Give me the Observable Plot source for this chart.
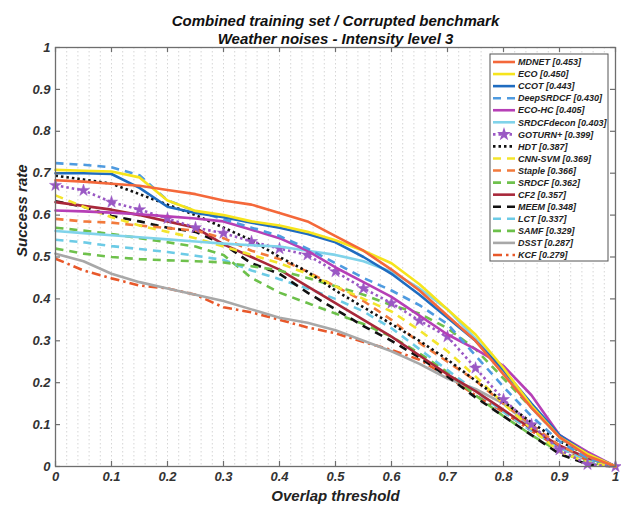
<!DOCTYPE html>
<html><head><meta charset="utf-8">
<script src="https://cdn.jsdelivr.net/npm/d3@7"></script>
<script src="https://cdn.jsdelivr.net/npm/@observablehq/plot@0.6"></script>
<style>
body{margin:0;background:#fff;}
#chart svg{font-family:"Liberation Sans",Arial,sans-serif;background:#fff;}
</style></head><body><div id="chart"></div>
<script>
// ---- data ----
const thresholds = [0,0.05,0.1,0.15,0.2,0.25,0.3,0.35,0.4,0.45,0.5,0.55,0.6,0.65,0.7,0.75,0.8,0.85,0.9,0.95,1];
const axisTicks = [0,0.1,0.2,0.3,0.4,0.5,0.6,0.7,0.8,0.9,1];
const gridTicks = [0.02,0.04,0.06,0.08,0.1,0.12,0.14,0.16,0.18,0.2,0.22,0.24,0.26,0.28,0.3,0.32,0.34,0.36,0.38,0.4,0.42,0.44,0.46,0.48,0.5,0.52,0.54,0.56,0.58,0.6,0.62,0.64,0.66,0.68,0.7,0.72,0.74,0.76,0.78,0.8,0.82,0.84,0.86,0.88,0.9,0.92,0.94,0.96,0.98];
const trackers = ["MDNET","ECO","CCOT","DeepSRDCF","ECO-HC","SRDCFdecon","GOTURN+","HDT","CNN-SVM","Staple","SRDCF","CF2","MEEM","LCT","SAMF","DSST","KCF"];
const aucs = ["0.453","0.450","0.443","0.430","0.405","0.403","0.399","0.387","0.369","0.366","0.362","0.357","0.348","0.337","0.329","0.287","0.279"];

const MDNET = [0.683,0.68,0.675,0.67,0.66,0.65,0.635,0.625,0.605,0.585,0.55,0.515,0.47,0.42,0.36,0.30,0.22,0.14,0.07,0.025,0];
const ECO = [0.708,0.706,0.704,0.69,0.635,0.61,0.6,0.585,0.575,0.56,0.54,0.515,0.485,0.435,0.375,0.315,0.235,0.145,0.07,0.03,0];
const CCOT = [0.70,0.70,0.698,0.665,0.62,0.605,0.595,0.582,0.57,0.555,0.535,0.50,0.46,0.41,0.355,0.30,0.23,0.15,0.075,0.03,0];
const DeepSRDCF = [0.724,0.72,0.714,0.695,0.635,0.61,0.59,0.57,0.55,0.52,0.485,0.45,0.42,0.385,0.34,0.265,0.19,0.12,0.06,0.02,0];
const ECOHC = [0.611,0.609,0.606,0.602,0.597,0.592,0.585,0.565,0.545,0.515,0.475,0.44,0.405,0.36,0.315,0.28,0.24,0.17,0.075,0.035,0];
const SRDCFdecon = [0.562,0.557,0.552,0.547,0.542,0.537,0.532,0.528,0.525,0.515,0.505,0.49,0.465,0.425,0.375,0.305,0.23,0.14,0.07,0.025,0];
const GOTURN = [0.671,0.659,0.631,0.613,0.592,0.57,0.557,0.537,0.52,0.505,0.465,0.425,0.39,0.348,0.31,0.235,0.16,0.10,0.04,0.005,0];
const HDT = [0.694,0.685,0.675,0.65,0.625,0.6,0.57,0.54,0.5,0.465,0.42,0.38,0.34,0.3,0.255,0.205,0.155,0.105,0.06,0.03,0];
const CNNSVM = [0.647,0.62,0.595,0.575,0.56,0.545,0.525,0.505,0.485,0.46,0.43,0.4,0.37,0.325,0.275,0.215,0.15,0.09,0.035,0.01,0];
const Staple = [0.591,0.585,0.582,0.575,0.569,0.563,0.545,0.515,0.495,0.465,0.43,0.395,0.35,0.295,0.25,0.205,0.15,0.1,0.05,0.02,0];
const SRDCF = [0.52,0.508,0.5,0.495,0.492,0.49,0.487,0.478,0.468,0.45,0.43,0.41,0.385,0.365,0.33,0.28,0.21,0.14,0.07,0.02,0];
const CF2 = [0.631,0.622,0.613,0.6,0.585,0.57,0.53,0.5,0.47,0.43,0.39,0.35,0.31,0.265,0.22,0.18,0.135,0.09,0.05,0.02,0];
const MEEM = [0.633,0.62,0.598,0.585,0.57,0.56,0.53,0.485,0.46,0.415,0.375,0.335,0.3,0.26,0.215,0.165,0.12,0.075,0.03,0.005,0];
const LCT = [0.541,0.535,0.526,0.519,0.512,0.503,0.493,0.468,0.447,0.425,0.4,0.37,0.33,0.28,0.23,0.18,0.13,0.085,0.045,0.015,0];
const SAMF = [0.570,0.563,0.555,0.545,0.535,0.525,0.505,0.45,0.415,0.39,0.365,0.34,0.31,0.27,0.225,0.17,0.12,0.075,0.035,0.01,0];
const DSST = [0.508,0.49,0.46,0.44,0.425,0.41,0.395,0.375,0.355,0.343,0.325,0.3,0.275,0.245,0.21,0.185,0.15,0.095,0.045,0.02,0];
const KCF = [0.496,0.468,0.449,0.432,0.425,0.41,0.38,0.368,0.35,0.332,0.318,0.297,0.278,0.255,0.215,0.17,0.13,0.085,0.045,0.015,0];

const seriesValues = [MDNET,ECO,CCOT,DeepSRDCF,ECOHC,SRDCFdecon,GOTURN,HDT,CNNSVM,Staple,SRDCF,CF2,MEEM,LCT,SAMF,DSST,KCF];

// ---- styles ----
const colors = ["#f4683a","#f6e41c","#1f6cc0","#4f9be0","#b63fb6","#80d3ea","#9a58c4","#111111","#f3e52c","#f27a3c","#6fc14c","#a8283a","#111111","#6ccbe6","#6cc04a","#a8a8a8","#e8582a"];
const DASH = "8,6", DOT = "2.5,3", DASHDOT = "9,4,2.5,4";
const dashes = [null,null,null,DASH,null,null,DOT,DOT,DASH,DASH,DASH,null,DASH,DASH,DASH,null,DASHDOT];
const LW = 2.6;

const rows = trackers.map((name, i) => thresholds.map((t, j) => ({name, x: t, y: seriesValues[i][j]})));

const W = 621, H = 510;
const mL = 55, mR = 6, mT = 47, mB = 44;
const fw = W - mL - mR, fh = H - mT - mB;

const lineMarks = [];
for (let i = trackers.length - 1; i >= 0; i--) {
  const o = {x: "x", y: "y", stroke: colors[i], strokeWidth: LW, strokeLinejoin: "round"};
  if (dashes[i]) { o.strokeDasharray = dashes[i]; o.strokeLinecap = "butt"; }
  lineMarks.push(Plot.line(rows[i], o));
  if (trackers[i] === "GOTURN+") {
    lineMarks.push(Plot.dot(rows[i], {x: "x", y: "y", symbol: "star", r: 3.8, fill: colors[i], stroke: colors[i], strokeWidth: 0.5}));
  }
}

const txt = {fontWeight: "bold", fontStyle: "italic"};
const fmt = d => (d === 0 || d === 1) ? String(d) : d.toFixed(1);

const chart = Plot.plot({
  width: W, height: H,
  marginLeft: mL, marginRight: mR, marginTop: mT, marginBottom: mB,
  style: {fontFamily: "Liberation Sans, Arial, sans-serif", background: "#fff"},
  x: {domain: [0, 1]},
  y: {domain: [0, 1]},
  marks: [
    Plot.ruleX(gridTicks, {stroke: "#d6d6d6", strokeWidth: 1, strokeDasharray: "1.5,2.5"}),
    ...lineMarks,
    Plot.frame({stroke: "#6e6e6e", strokeWidth: 1.3}),
    Plot.tickX(axisTicks, {stroke: "#6e6e6e", strokeWidth: 1.2, insetTop: fh - 5}),
    Plot.tickX(axisTicks, {stroke: "#6e6e6e", strokeWidth: 1.2, insetBottom: fh - 5}),
    Plot.tickY(axisTicks, {stroke: "#6e6e6e", strokeWidth: 1.2, insetRight: fw - 5}),
    Plot.tickY(axisTicks, {stroke: "#6e6e6e", strokeWidth: 1.2, insetLeft: fw - 5}),
    Plot.axisX(axisTicks, {tickSize: 0, tickPadding: 5, tickFormat: fmt, label: null, fontSize: 13, ...txt, color: "#333"}),
    Plot.axisY(axisTicks, {tickSize: 0, tickPadding: 5, tickFormat: fmt, label: null, fontSize: 13, ...txt, color: "#333"}),
    Plot.text(["Overlap threshold"], {text: d => d, frameAnchor: "bottom", dy: 34, fontSize: 15, ...txt, fill: "#222"}),
    Plot.text(["Success rate"], {text: d => d, frameAnchor: "left", dx: -33, rotate: -90, fontSize: 15, ...txt, fill: "#222"}),
    Plot.text(["Combined training set / Corrupted benchmark"], {text: d => d, frameAnchor: "top", dy: -32, fontSize: 15, ...txt, fill: "#111"}),
    Plot.text(["Weather noises - Intensity level 3"], {text: d => d, frameAnchor: "top", dy: -14, fontSize: 15, ...txt, fill: "#111"})
  ]
});
document.getElementById("chart").appendChild(chart);

// ---- legend ----
const svg = d3.select(chart);
const lg = svg.append("g").attr("class", "legend").attr("text-anchor", "start");
const bx = 490, by = 54, bw = 118, bh = 207, row0 = 62, rowH = 12.06;
lg.append("rect").attr("x", bx).attr("y", by).attr("width", bw).attr("height", bh)
  .attr("fill", "#fff").attr("stroke", "#555").attr("stroke-width", 1);
trackers.forEach((name, i) => {
  const yy = row0 + i * rowH;
  const ln = lg.append("line").attr("x1", 493).attr("x2", 515).attr("y1", yy).attr("y2", yy)
    .attr("stroke", colors[i]).attr("stroke-width", LW);
  if (dashes[i]) ln.attr("stroke-dasharray", dashes[i]);
  if (name === "GOTURN+") {
    lg.append("path").attr("d", d3.symbol(d3.symbolStar, 60)()).attr("transform", `translate(504,${yy})`)
      .attr("fill", colors[i]);
  }
  lg.append("text").attr("x", 518).attr("y", yy + 3.2).attr("text-anchor", "start")
    .attr("font-size", 9).attr("font-weight", "bold").attr("font-style", "italic")
    .attr("fill", "#222").text(`${name} [${aucs[i]}]`);
});
</script>
</body></html>
